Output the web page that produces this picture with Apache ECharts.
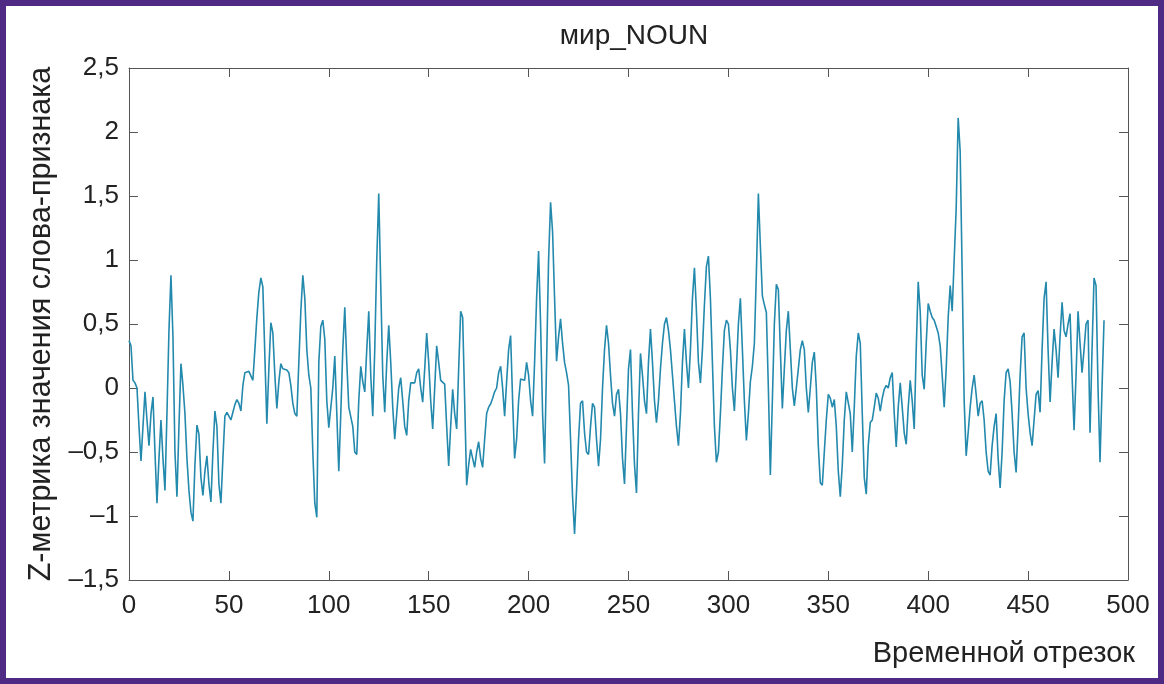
<!DOCTYPE html>
<html>
<head>
<meta charset="utf-8">
<title>мир_NOUN</title>
<script src="https://cdn.jsdelivr.net/npm/echarts@6/dist/echarts.min.js"></script>
<style>
  html, body { margin: 0; padding: 0; background: #fff; }
  #chart1 { width: 1164px; height: 684px; }
</style>
</head>
<body>
<div id="chart1"></div>
<script>
const chartTitle = "мир_NOUN";
const yAxisName = "Z-метрика значения слова-признака";
const xAxisName = "Временной отрезок";

const xTicks = [0, 50, 100, 150, 200, 250, 300, 350, 400, 450, 500];
const yTicks = [-1.5, -1, -0.5, 0, 0.5, 1, 1.5, 2, 2.5];

// z-metric per time slot, index 0..488
const zValues = [
  0.37, 0.33, 0.06, 0.04, 0.0, -0.3, -0.57, -0.3, -0.03, -0.25,
  -0.45, -0.2, -0.07, -0.5, -0.9, -0.55, -0.25, -0.55, -0.8, -0.2,
  0.45, 0.88, 0.4, -0.5, -0.85, -0.3, 0.19, 0.02, -0.2, -0.55,
  -0.8, -0.97, -1.04, -0.6, -0.29, -0.36, -0.7, -0.84, -0.65, -0.53,
  -0.75, -0.89, -0.5, -0.18, -0.3, -0.75, -0.9, -0.55, -0.22, -0.19,
  -0.22, -0.25, -0.19, -0.13, -0.09, -0.12, -0.18, 0.02, 0.12, 0.11,
  0.13, 0.135, 0.06, 0.3, 0.55, 0.75, 0.86, 0.79, 0.25, -0.28,
  0.15, 0.51, 0.43, 0.1, -0.16, 0.05, 0.19, 0.15, 0.16, 0.14,
  0.12, 0.02, -0.12, -0.2, -0.22, 0.2, 0.6, 0.88, 0.7, 0.3,
  0.1, 0.0, -0.5, -0.9, -1.01, 0.2, 0.48, 0.53, 0.38, -0.1,
  -0.31, -0.32, 0.0, 0.25, -0.2, -0.65, -0.2, 0.3, 0.63, 0.2,
  -0.15, -0.16, -0.3, -0.5, -0.52, -0.1, 0.17, 0.05, -0.03, 0.3,
  0.6, 0.1, -0.22, 0.3, 1.0, 1.52, 0.8, 0.1, -0.19, 0.2,
  0.49, 0.2, -0.15, -0.4, -0.2, 0.0, 0.08, -0.1, -0.3, -0.37,
  -0.1, 0.04, 0.04, 0.04, 0.12, 0.15, 0.0, -0.11, 0.15, 0.43,
  0.2, -0.1, -0.32, 0.0, 0.33, 0.2, 0.06, 0.05, 0.03, -0.3,
  -0.61, -0.3, -0.01, -0.2, -0.32, 0.15, 0.6, 0.55, -0.1, -0.76,
  -0.6, -0.48, -0.55, -0.62, -0.5, -0.42, -0.55, -0.62, -0.4, -0.2,
  -0.15, -0.125, -0.08, -0.03, 0.0, 0.12, 0.17, 0.0, -0.22, 0.05,
  0.3, 0.41, -0.1, -0.55, -0.4, -0.1, 0.07, 0.08, 0.06, 0.2,
  0.1, -0.1, -0.22, 0.2, 0.7, 1.07, 0.5, -0.2, -0.59, 0.2,
  1.0, 1.45, 1.22, 0.7, 0.21, 0.4, 0.54, 0.35, 0.2, 0.12,
  0.02, -0.4, -0.85, -1.14, -0.8, -0.4, -0.12, -0.1, -0.35, -0.5,
  -0.52, -0.3, -0.12, -0.15, -0.4, -0.61, -0.4, 0.0, 0.3, 0.49,
  0.35, 0.1, -0.12, -0.22, -0.05, -0.01, -0.2, -0.55, -0.75, -0.3,
  0.15, 0.3, -0.2, -0.6, -0.82, -0.2, 0.27, 0.1, -0.1, -0.2,
  0.2, 0.46, 0.2, -0.1, -0.27, -0.1, 0.15, 0.35, 0.5, 0.55,
  0.45, 0.3, 0.1, -0.1, -0.3, -0.45, -0.2, 0.2, 0.46, 0.2,
  0.0, 0.3, 0.7, 0.94, 0.6, 0.2, 0.04, 0.3, 0.65, 0.95,
  1.03, 0.7, 0.2, -0.3, -0.58, -0.5, -0.2, 0.15, 0.45, 0.53,
  0.5, 0.3, 0.0, -0.18, 0.15, 0.5, 0.7, 0.3, -0.1, -0.41,
  -0.2, 0.05, 0.17, 0.35, 0.9, 1.52, 1.11, 0.72, 0.65, 0.59,
  0.0, -0.68, -0.1, 0.5, 0.81, 0.77, 0.3, -0.16, 0.15, 0.45,
  0.6, 0.3, 0.0, -0.14, 0.0, 0.15, 0.3, 0.37, 0.3, 0.0,
  -0.19, 0.0, 0.2, 0.28, 0.0, -0.45, -0.74, -0.76, -0.5, -0.25,
  -0.05, -0.08, -0.15, -0.09, -0.3, -0.65, -0.85, -0.6, -0.25, -0.03,
  -0.04, -0.2, -0.5, -0.15, 0.25, 0.43, 0.35, -0.2, -0.7, -0.83,
  -0.45, -0.27, -0.25, -0.15, -0.04, -0.08, -0.18, -0.08, -0.01, 0.02,
  0.0, 0.08, 0.12, -0.2, -0.46, -0.15, 0.04, -0.15, -0.35, -0.44,
  -0.15, 0.06, -0.1, -0.32, 0.3, 0.83, 0.6, 0.1, -0.01, 0.35,
  0.66, 0.6, 0.55, 0.53, 0.48, 0.43, 0.33, 0.1, -0.15, 0.15,
  0.55, 0.8, 0.6, 0.59, 1.4, 2.11, 1.85, 0.9, -0.1, -0.53,
  -0.35, -0.15, 0.0, 0.1, -0.05, -0.22, -0.12, -0.1, -0.25, -0.5,
  -0.65, -0.68, -0.45, -0.3, -0.2, -0.55, -0.78, -0.5, -0.1, 0.12,
  0.15, 0.05, -0.2, -0.5, -0.66, -0.3, 0.1, 0.4, 0.43, 0.0,
  -0.2, -0.35, -0.45, -0.25, -0.05, -0.02, -0.19, 0.3, 0.7, 0.83,
  0.3, -0.11, 0.2, 0.46, 0.3, 0.08, 0.4, 0.67, 0.45, 0.4,
  0.5, 0.58, 0.1, -0.33, 0.1, 0.6, 0.35, 0.12, 0.3, 0.5,
  0.53, -0.35, 0.3, 0.86, 0.8, 0.0, -0.58, 0.0, 0.53
];

const fontName = "Liberation Sans, Arial, sans-serif";
const axisColor = "#555";
const textColor = "#222";

const fmtY = (v) => {
  let s = String(Math.abs(v)).replace(".", ",");
  return v < 0 ? "\u2013" + s : s;
};

// all four sides of the box get a line and inward ticks
const boxAxis = (extra) => Object.assign({
  axisLine: { show: true, onZero: false, lineStyle: { color: axisColor, width: 1 } },
  axisTick: { show: true, inside: true, length: 9, lineStyle: { color: axisColor } },
  splitLine: { show: false },
}, extra);

const getOptionChart1 = () => {
  let seriesData = zValues.map((v, i) => [i, v]);
  return {
    backgroundColor: "#fff",
    animation: false,
    title: {
      text: chartTitle,
      left: 629,
      top: 17,
      textAlign: "center",
      textStyle: { fontFamily: fontName, fontSize: 28, fontWeight: "normal", color: textColor },
    },
    grid: { left: 129, right: 36, top: 68, bottom: 104 },
    xAxis: [
      boxAxis({
        type: "value",
        min: xTicks[0],
        max: xTicks[xTicks.length - 1],
        interval: 50,
        position: "bottom",
        axisLabel: { fontFamily: fontName, fontSize: 26, color: textColor, margin: 13 },
      }),
      boxAxis({
        type: "value",
        min: xTicks[0],
        max: xTicks[xTicks.length - 1],
        interval: 50,
        position: "top",
        axisLabel: { show: false },
      }),
    ],
    yAxis: [
      boxAxis({
        type: "value",
        min: yTicks[0],
        max: yTicks[yTicks.length - 1],
        interval: 0.5,
        position: "left",
        name: yAxisName,
        nameLocation: "middle",
        nameGap: 71,
        nameTextStyle: { fontFamily: fontName, fontSize: 30.5, color: textColor },
        axisLabel: { fontFamily: fontName, fontSize: 26, color: textColor, margin: 10, formatter: fmtY },
      }),
      boxAxis({
        type: "value",
        min: yTicks[0],
        max: yTicks[yTicks.length - 1],
        interval: 0.5,
        position: "right",
        axisLabel: { show: false },
      }),
    ],
    graphic: [
      {
        type: "text",
        right: 29,
        top: 639,
        style: { text: xAxisName, font: "29px " + fontName, fill: textColor },
      },
      {
        type: "rect",
        shape: { x: 3, y: 3, width: 1158, height: 678 },
        style: { fill: null, stroke: "#4e2a84", lineWidth: 6 },
      },
    ],
    series: [
      {
        type: "line",
        data: seriesData,
        showSymbol: false,
        lineStyle: { color: "#2389ad", width: 1.6 },
        xAxisIndex: 0,
        yAxisIndex: 0,
      },
    ],
  };
};

const initCharts = () => {
  const chart1 = echarts.init(document.getElementById("chart1"));
  chart1.setOption(getOptionChart1());
};

window.addEventListener("load", () => {
  initCharts();
});
</script>
</body>
</html>
